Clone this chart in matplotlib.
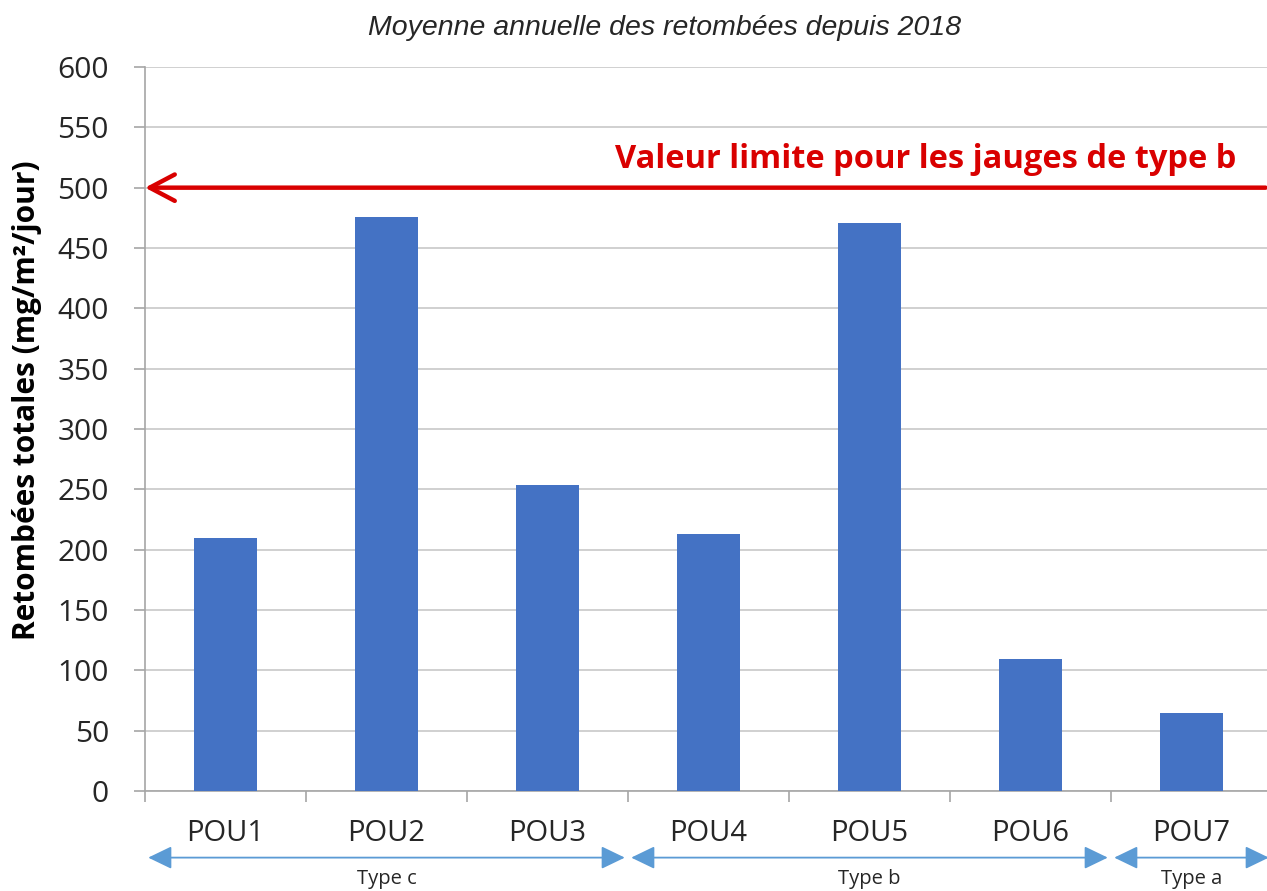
import matplotlib
matplotlib.use('Agg')
import matplotlib.pyplot as plt
import matplotlib.transforms as mtransforms
import numpy as np

# data
stations = ['POU1', 'POU2', 'POU3', 'POU4', 'POU5', 'POU6', 'POU7']
fallout = [210, 476, 254, 213, 471, 109, 65]
gauge_types = ['Type c', 'Type b', 'Type a']
gauge_counts = [3, 3, 1]
limit_value = 500
limit_label = 'Valeur limite pour les jauges de type b'
title = 'Moyenne annuelle des retombées depuis 2018'
y_label = 'Retombées totales (mg/m²/jour)'
y_ticks = list(range(0, 601, 50))

bar_color = '#4472c4'
red = '#d90000'
light_blue = '#5b9bd5'
grey = '#a6a6a6'

plt.rcParams['font.family'] = ['Open Sans', 'DejaVu Sans']

fig = plt.figure(figsize=(12.67, 8.91), dpi=100)
ax = fig.add_axes([145 / 1267, 1 - 791 / 891, 1127 / 1267, (791 - 67) / 891])

x = np.arange(len(stations))
ax.bar(x, fallout, width=0.39, color=bar_color, zorder=3)

ax.set_xlim(-0.5, len(stations) - 0.5)
ax.set_ylim(0, 600)
ax.set_yticks(y_ticks)
ax.set_yticklabels([str(v) for v in y_ticks], fontsize=21.5, color='#262626')
ax.set_xticks(x)
ax.set_xticklabels(stations, fontsize=21, color='#262626')
ax.set_xticks(np.arange(len(stations) + 1) - 0.5, minor=True)
ax.tick_params(axis='x', which='major', length=0, pad=20)
ax.tick_params(axis='x', which='minor', length=8, color=grey, width=1.2)
ax.tick_params(axis='y', length=8, color=grey, width=1.2, pad=18)

ax.grid(axis='y', color='#c4c4c4', linewidth=1.1, zorder=0)
for s in ['top', 'right']:
    ax.spines[s].set_visible(False)
for s in ['left', 'bottom']:
    ax.spines[s].set_color(grey)
    ax.spines[s].set_linewidth(1.2)

ax.set_ylabel(y_label, fontsize=21.5, fontweight='bold')
ax.yaxis.set_label_coords(-0.091, 0.54)
fig.text(665 / 1267, 1 - 28 / 891, title, ha='center', va='center',
         fontsize=20.5, style='italic', family='Liberation Sans', color='#262626')

# limit arrow
ax.annotate('', xy=(-0.5, limit_value), xytext=(6.46, limit_value),
            arrowprops=dict(arrowstyle='->,head_length=1.8,head_width=0.95',
                            color=red, lw=3.2, shrinkA=0, shrinkB=0),
            zorder=5, annotation_clip=False)
ax.text(6.28, limit_value + 23, limit_label, ha='right', va='center',
        fontsize=23.5, fontweight='bold', color=red, zorder=5)

# gauge type arrows under the category labels
trans = mtransforms.blended_transform_factory(ax.transData, ax.transAxes)
edges = np.concatenate([[0], np.cumsum(gauge_counts)]) - 0.5
for name, lo, hi in zip(gauge_types, edges[:-1], edges[1:]):
    ax.annotate('', xy=(lo + 0.02, -0.092), xytext=(hi - 0.02, -0.092),
                xycoords=trans, textcoords=trans,
                arrowprops=dict(arrowstyle='<|-|>,head_length=1.45,head_width=0.7',
                                color=light_blue, lw=1.3, shrinkA=0, shrinkB=0),
                annotation_clip=False)
    ax.text((lo + hi) / 2, -0.121, name, transform=trans, ha='center',
            va='center', fontsize=14.5, color='#262626')

fig.savefig('out.png', dpi=100)
